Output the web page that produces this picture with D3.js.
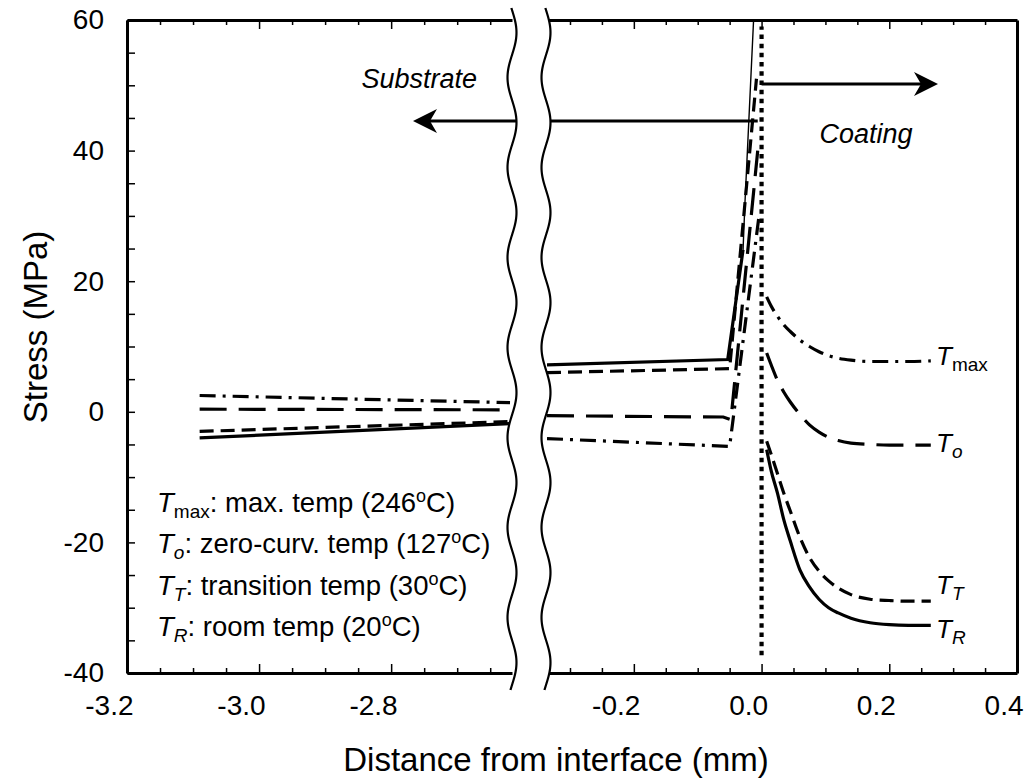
<!DOCTYPE html>
<html>
<head>
<meta charset="utf-8">
<script src="https://cdn.jsdelivr.net/npm/d3@7"></script>
<style>
  body { margin: 0; background: #fff; }
  text { font-family: "Liberation Sans", Arial, Helvetica, sans-serif; fill: #000; }
</style>
</head>
<body>
<svg id="chart" width="1034" height="780"></svg>
<script>
// substrate, far from the interface (left of the axis break)
const farX = [-3.09, -2.62];
const farTR = [-4.0, -1.8];
const farTT = [-3.0, -1.5];
const farTo = [0.4, 0.3];
const farTmax = [2.5, 1.4];

// substrate, close to the interface
const nearTRx = [-0.336, -0.053, -0.029];
const nearTR = [7.2, 8.0, 24.8];
const riseTRx = [-0.029, -0.026, -0.0125];   // thin steep part of the solid line
const riseTR = [24.8, 32, 60];
const nearTTx = [-0.336, -0.05, -0.008];
const nearTT = [6.0, 6.6, 51];
const nearTox = [-0.336, -0.06, -0.048, -0.006];
const nearTo = [-0.6, -0.8, -1.2, 40];
const nearTmaxx = [-0.336, -0.05, -0.004];
const nearTmax = [-4.1, -5.3, 30];

// coating
const coatX = [0.008, 0.015, 0.025, 0.035, 0.045, 0.06, 0.075, 0.09, 0.105, 0.12, 0.14, 0.17, 0.2, 0.23, 0.265];
const coatTR = [-5.8, -9.0, -12.5, -16.6, -19.8, -24.2, -26.8, -28.7, -30.0, -30.8, -31.6, -32.3, -32.6, -32.7, -32.7];
const coatTT = [-4.5, -6.5, -9.5, -12.5, -15.2, -19.2, -22.3, -24.4, -25.9, -27.0, -28.0, -28.7, -28.9, -29.0, -29.0];
const coatTo = [9.0, 7.2, 4.8, 3.0, 1.5, -0.4, -2.0, -3.1, -3.9, -4.4, -4.8, -5.0, -5.1, -5.1, -5.1];
const coatTmax = [17.6, 16.2, 14.6, 13.3, 12.3, 11.0, 10.0, 9.2, 8.6, 8.2, 7.9, 7.7, 7.7, 7.7, 7.8];

const farTicks = [-3.2, -3.15, -3.1, -3.05, -3.0, -2.95, -2.9, -2.85, -2.8, -2.75, -2.7, -2.65];
const nearTicks = [-0.3, -0.25, -0.2, -0.15, -0.1, -0.05, 0, 0.05, 0.1, 0.15, 0.2, 0.25, 0.3, 0.35];
const xLabels = [-3.2, -3.0, -2.8, -0.2, 0, 0.2, 0.4];
const yTicks = [-40, -35, -30, -25, -20, -15, -10, -5, 0, 5, 10, 15, 20, 25, 30, 35, 40, 45, 50, 55, 60];
const yLabels = [-40, -20, 0, 20, 40, 60];

const svg = d3.select("#chart");
const yTop = 20, yBot = 673;
const xL = d3.scaleLinear().domain([-3.2, -2.617]).range([127, 512]);
const xR = d3.scaleLinear().domain([-0.336, 0.4]).range([547, 1017]);
const y = d3.scaleLinear().domain([-40, 60]).range([yBot, yTop]);

const fmt = d => xLabels.includes(d) ? d.toFixed(1) : "";
const isLab = d => xLabels.includes(d);

svg.append("defs").append("clipPath").attr("id", "clipR")
  .append("rect").attr("x", 547).attr("y", yTop).attr("width", 470).attr("height", yBot - yTop);

function styleAxis(g) {
  g.select(".domain").attr("stroke", "#000").attr("stroke-width", 3);
  g.selectAll(".tick line").attr("stroke", "#000").attr("stroke-width", 1.5);
  g.selectAll(".tick text").attr("font-size", 28).attr("font-family", "Liberation Sans, Arial, sans-serif");
}

// bottom + top axes for both pieces
[[xL, farTicks], [xR, nearTicks]].forEach(([sc, tv]) => {
  const b = svg.append("g").attr("transform", `translate(0,${yBot})`)
    .call(d3.axisBottom(sc).tickValues(tv).tickSize(-5).tickSizeOuter(0).tickPadding(22).tickFormat(fmt));
  styleAxis(b);
  b.selectAll(".tick line").attr("y2", d => isLab(d) ? -9 : -5);
  b.selectAll(".tick text").attr("text-anchor", "end").attr("dx", 6);
  const t = svg.append("g").attr("transform", `translate(0,${yTop})`)
    .call(d3.axisTop(sc).tickValues(tv).tickSize(-5).tickSizeOuter(0).tickFormat(""));
  styleAxis(t);
  t.selectAll(".tick line").attr("y2", d => isLab(d) ? 9 : 5);
});

// 0.4 label sits on the right frame
svg.append("g").attr("transform", `translate(0,${yBot})`)
  .call(d3.axisBottom(xR).tickValues([0.4]).tickSize(0).tickPadding(22).tickFormat(d => d.toFixed(1)))
  .call(g => { g.select(".domain").remove(); styleAxis(g); g.selectAll("text").attr("text-anchor", "end").attr("dx", 6); });

const ya = svg.append("g").attr("transform", "translate(127,0)")
  .call(d3.axisLeft(y).tickValues(yTicks).tickSize(-8).tickSizeOuter(0).tickPadding(23)
    .tickFormat(d => yLabels.includes(d) ? String(d) : ""));
styleAxis(ya);
const yr = svg.append("g").attr("transform", "translate(1017,0)")
  .call(d3.axisRight(y).tickValues([]).tickSizeOuter(0));
styleAxis(yr);

// data lines
const styles = {
  TR: { dash: null },
  TT: { dash: "14,7" },
  To: { dash: "27,12" },
  Tmax: { dash: "16,7,3,7" }
};
const series = [
  ["TR", farTR, nearTRx, nearTR, coatTR],
  ["TT", farTT, nearTTx, nearTT, coatTT],
  ["To", farTo, nearTox, nearTo, coatTo],
  ["Tmax", farTmax, nearTmaxx, nearTmax, coatTmax]
];
const lineL = d3.line().x(d => xL(d[0])).y(d => y(d[1]));
const lineR = d3.line().x(d => xR(d[0])).y(d => y(d[1]));
const curveR = d3.line().x(d => xR(d[0])).y(d => y(d[1])).curve(d3.curveMonotoneX);

const plot = svg.append("g");
function addLine(gen, pts, dash, w, clip) {
  const p = plot.append("path").datum(pts).attr("d", gen)
    .attr("fill", "none").attr("stroke", "#000").attr("stroke-width", w)
    .attr("stroke-dasharray", dash);
  if (clip) p.attr("clip-path", "url(#clipR)");
}
series.forEach(([key, far, nx, nv, cv]) => {
  const dash = styles[key].dash;
  addLine(lineL, farX.map((x, i) => [x, far[i]]), dash, 3.2, false);
  addLine(lineR, nx.map((x, i) => [x, nv[i]]), dash, 3.2, true);
  addLine(curveR, coatX.map((x, i) => [x, cv[i]]), dash, 3.2, true);
});
addLine(lineR, riseTRx.map((x, i) => [x, riseTR[i]]), null, 1.4, true);

// interface (dotted)
plot.append("path").datum([[0, -37.3], [0, 59]]).attr("d", lineR)
  .attr("stroke", "#000").attr("stroke-width", 4.2).attr("stroke-dasharray", "4.5,4.7").attr("fill", "none");

// arrows
function arrow(x1, x2, yy) {
  const dir = Math.sign(x2 - x1);
  svg.append("line").attr("x1", x1).attr("x2", x2 - dir * 10).attr("y1", yy).attr("y2", yy)
    .attr("stroke", "#000").attr("stroke-width", 3);
  const L = 24, W = 12, N = 7;
  svg.append("path")
    .attr("d", `M${x2},${yy} L${x2 - dir * L},${yy - W} L${x2 - dir * (L - N)},${yy} L${x2 - dir * L},${yy + W} Z`)
    .attr("fill", "#000");
}
arrow(xR(-0.006), 413, 121);
arrow(xR(0), 938, 84);

// axis break
const wave = x0 => d3.range(8, 692, 2).map(v => [x0 + 4.5 * Math.sin(2 * Math.PI * (v - 10) / 90), v]);
const wl = wave(512), wr = wave(546);
svg.append("path").attr("d", d3.line()(wl.concat(wr.slice().reverse())) + "Z")
  .attr("fill", "#fff").attr("stroke", "none");
[wl, wr].forEach(w => svg.append("path").attr("d", d3.line().curve(d3.curveBasis)(w))
  .attr("fill", "none").attr("stroke", "#000").attr("stroke-width", 2.2));

// annotations
svg.append("text").attr("x", 477).attr("y", 88).attr("text-anchor", "end")
  .attr("font-size", 27).attr("font-style", "italic").text("Substrate");
svg.append("text").attr("x", 866).attr("y", 143).attr("text-anchor", "middle")
  .attr("font-size", 27).attr("font-style", "italic").text("Coating");

// curve end labels
const endLabels = [
  ["max", false, 365], ["o", true, 452], ["T", true, 594], ["R", true, 638]
];
endLabels.forEach(([sub, it, by]) => {
  const t = svg.append("text").attr("x", 936).attr("y", by).attr("font-size", 26);
  t.append("tspan").attr("font-style", "italic").text("T");
  t.append("tspan").attr("dy", 6).attr("font-size", 19).attr("font-style", it ? "italic" : "normal").text(sub);
});

// legend text
const legend = [
  ["max", false, ": max. temp (246", 512],
  ["o", true, ": zero-curv. temp (127", 553],
  ["T", true, ": transition temp (30", 595],
  ["R", true, ": room temp (20", 636]
];
legend.forEach(([sub, it, txt, by]) => {
  const t = svg.append("text").attr("x", 157).attr("y", by).attr("font-size", 27.5);
  t.append("tspan").attr("font-style", "italic").text("T");
  t.append("tspan").attr("dy", 6).attr("font-size", 19).attr("font-style", it ? "italic" : "normal").text(sub);
  t.append("tspan").attr("dy", -6).text(txt);
  t.append("tspan").attr("dy", -10).attr("font-size", 18).text("o");
  t.append("tspan").attr("dy", 10).text("C)");
});

// axis titles
svg.append("text").attr("x", 556).attr("y", 771).attr("text-anchor", "middle")
  .attr("font-size", 33).text("Distance from interface (mm)");
svg.append("text").attr("transform", "translate(47,327) rotate(-90)").attr("text-anchor", "middle")
  .attr("font-size", 33).text("Stress (MPa)");
</script>
</body>
</html>
